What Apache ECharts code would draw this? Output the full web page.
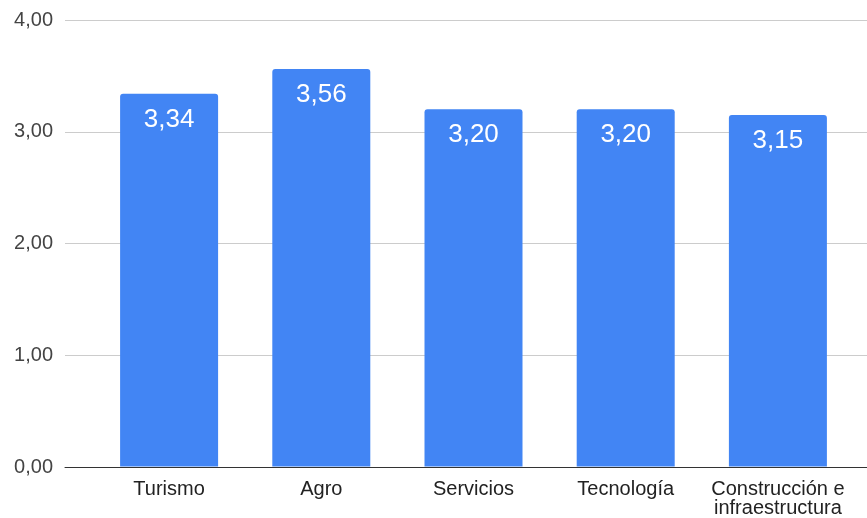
<!DOCTYPE html>
<html><head><meta charset="utf-8">
<script src="https://cdn.jsdelivr.net/npm/echarts@6/dist/echarts.min.js"></script>
<style>html,body{margin:0;padding:0;background:#fff}#c{width:867px;height:518px}</style>
</head><body><div id="c"></div>
<script>
const categories = ['Turismo', 'Agro', 'Servicios', 'Tecnología', 'Construcción e\ninfraestructura'];
const values = [3.34, 3.56, 3.20, 3.20, 3.15];
const yTicks = [0, 1, 2, 3, 4];

const fmt = v => v.toFixed(2).replace('.', ',');
const FONT = 'Arial, "Liberation Sans", sans-serif';
const chart = echarts.init(document.getElementById('c'), null, {renderer: 'canvas'});
chart.setOption({
  animation: false,
  textStyle: {fontFamily: FONT},
  grid: [
    {left: 65, right: 0, top: 20, bottom: 51},
    {left: 93, right: 13, top: 20, bottom: 51}
  ],
  xAxis: [
    {gridIndex: 0, type: 'category', data: [''], axisLine: {lineStyle: {color: '#333', width: 1}},
     axisTick: {show: false}, axisLabel: {show: false}, splitLine: {show: false}},
    {gridIndex: 1, type: 'category', data: categories, axisLine: {show: false}, axisTick: {show: false},
     axisLabel: {interval: 0, hideOverlap: false, color: '#222', fontSize: 20, margin: 13, lineHeight: 19, fontFamily: FONT}}
  ],
  yAxis: [
    {gridIndex: 0, type: 'value', min: yTicks[0], max: yTicks[yTicks.length-1], interval: 1,
     axisLine: {show: false}, axisTick: {show: false},
     axisLabel: {color: '#444', fontSize: 20, margin: 12, fontFamily: FONT, formatter: fmt},
     splitLine: {lineStyle: {color: '#ccc', width: 1}}},
    {gridIndex: 1, type: 'value', min: yTicks[0], max: yTicks[yTicks.length-1], interval: 1, show: false}
  ],
  series: [{
    type: 'bar', xAxisIndex: 1, yAxisIndex: 1, data: values, barWidth: 98,
    itemStyle: {color: '#4285F4', borderRadius: [3, 3, 0, 0]},
    label: {show: true, position: 'insideTop', distance: 13, color: '#fff', fontSize: 26, fontFamily: FONT,
      formatter: p => fmt(p.value)}
  }]
});
</script></body></html>
